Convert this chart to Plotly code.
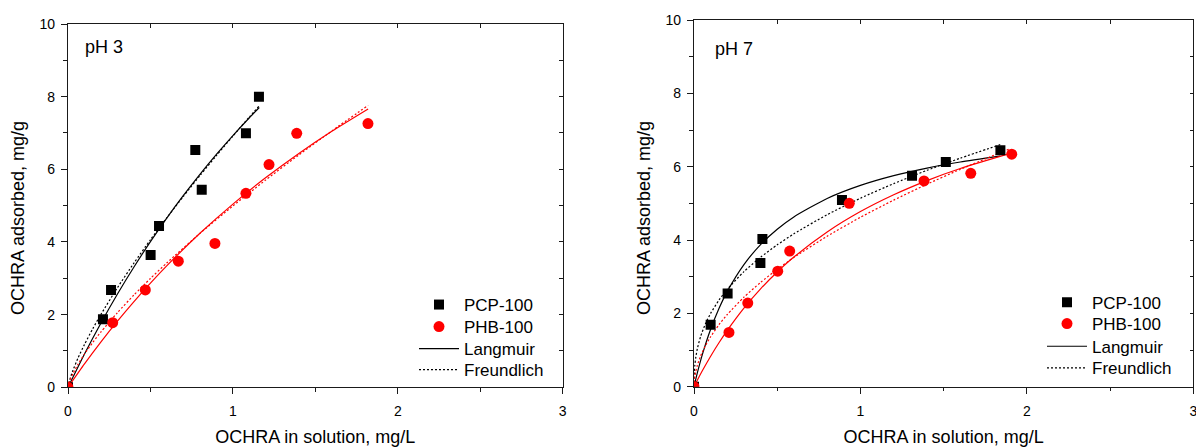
import plotly.graph_objects as go

# ---------------- data: pH 3 panel ----------------
ph3_pcp_x = [0, 0.212, 0.261, 0.501, 0.552, 0.772, 0.811, 1.079, 1.158]
ph3_pcp_y = [0, 1.87, 2.68, 3.64, 4.44, 6.53, 5.44, 6.99, 8.00]
ph3_phb_x = [0, 0.271, 0.469, 0.669, 0.891, 1.079, 1.219, 1.387, 1.819]
ph3_phb_y = [0, 1.78, 2.68, 3.47, 3.96, 5.34, 6.13, 6.99, 7.26]

# fitted curves
ph3_pcp_lang_x = [0, 0.1, 0.2, 0.3, 0.4, 0.5, 0.6, 0.7, 0.8, 0.9, 1.0, 1.1, 1.16]
ph3_pcp_lang_y = [0, 0.918, 1.772, 2.568, 3.312, 4.010, 4.665, 5.281, 5.862, 6.410, 6.929, 7.420, 7.702]
ph3_pcp_freu_x = [0, 0.01, 0.03, 0.06, 0.1, 0.15, 0.2, 0.3, 0.4, 0.5, 0.6, 0.7, 0.8, 0.9, 1.0, 1.1, 1.16]
ph3_pcp_freu_y = [0, 0.201, 0.468, 0.797, 1.180, 1.611, 2.009, 2.743, 3.421, 4.061, 4.671, 5.258, 5.827, 6.378, 6.915, 7.440, 7.750]
ph3_phb_lang_x = [0, 0.1, 0.2, 0.3, 0.4, 0.5, 0.6, 0.8, 1.0, 1.2, 1.4, 1.6, 1.82]
ph3_phb_lang_y = [0, 0.645, 1.251, 1.821, 2.360, 2.869, 3.350, 4.240, 5.043, 5.773, 6.438, 7.047, 7.660]
ph3_phb_freu_x = [0, 0.01, 0.03, 0.06, 0.1, 0.15, 0.2, 0.3, 0.4, 0.5, 0.6, 0.8, 1.0, 1.2, 1.4, 1.6, 1.82]
ph3_phb_freu_y = [0, 0.168, 0.377, 0.628, 0.916, 1.234, 1.526, 2.056, 2.542, 2.996, 3.427, 4.236, 4.992, 5.710, 6.396, 7.057, 7.760]

# ---------------- data: pH 7 panel ----------------
ph7_pcp_x = [0, 0.100, 0.202, 0.399, 0.411, 0.889, 1.310, 1.513, 1.841]
ph7_pcp_y = [0, 1.69, 2.54, 3.37, 4.03, 5.09, 5.75, 6.13, 6.45]
ph7_phb_x = [0, 0.210, 0.323, 0.503, 0.575, 0.933, 1.382, 1.663, 1.909]
ph7_phb_y = [0, 1.48, 2.28, 3.15, 3.70, 5.00, 5.61, 5.82, 6.34]

ph7_pcp_lang_x = [0, 0.02, 0.05, 0.1, 0.15, 0.2, 0.3, 0.4, 0.5, 0.6, 0.8, 1.0, 1.2, 1.4, 1.6, 1.84]
ph7_pcp_lang_y = [0, 0.376, 0.874, 1.568, 2.132, 2.600, 3.330, 3.875, 4.296, 4.631, 5.133, 5.489, 5.755, 5.962, 6.127, 6.286]
ph7_pcp_freu_x = [0, 0.002, 0.005, 0.01, 0.02, 0.04, 0.07, 0.1, 0.15, 0.2, 0.3, 0.4, 0.5, 0.6, 0.8, 1.0, 1.2, 1.4, 1.6, 1.84]
ph7_pcp_freu_y = [0, 0.402, 0.586, 0.778, 1.034, 1.374, 1.728, 2.000, 2.361, 2.657, 3.138, 3.530, 3.869, 4.169, 4.691, 5.140, 5.539, 5.901, 6.232, 6.600]
ph7_phb_lang_x = [0, 0.02, 0.05, 0.1, 0.15, 0.2, 0.3, 0.4, 0.5, 0.6, 0.8, 1.0, 1.2, 1.4, 1.6, 1.9]
ph7_phb_lang_y = [0, 0.178, 0.434, 0.832, 1.199, 1.537, 2.143, 2.668, 3.128, 3.535, 4.220, 4.776, 5.235, 5.621, 5.951, 6.363]
ph7_phb_freu_x = [0, 0.002, 0.005, 0.01, 0.02, 0.04, 0.07, 0.1, 0.15, 0.2, 0.3, 0.4, 0.5, 0.6, 0.8, 1.0, 1.2, 1.4, 1.6, 1.9]
ph7_phb_freu_y = [0, 0.172, 0.279, 0.402, 0.581, 0.839, 1.129, 1.363, 1.690, 1.969, 2.441, 2.843, 3.200, 3.524, 4.105, 4.620, 5.089, 5.522, 5.927, 6.492]

panel_labels = ["pH 3", "pH 7"]
x_title = "OCHRA in solution, mg/L"
y_title = "OCHRA adsorbed, mg/g"
x_range = [0, 3]
y_range = [0, 10]

FONT = "Liberation Sans, Arial, sans-serif"
AX = "#1a1a1a"
RED = "#ff0000"
W, H = 1196, 447

fig = go.Figure()


def add_panel(xa, ya, legs, pcp_x, pcp_y, phb_x, phb_y,
              pl_x, pl_y, pf_x, pf_y, rl_x, rl_y, rf_x, rf_y):
    common = dict(xaxis=xa, yaxis=ya, hoverinfo="skip")
    curve = dict(mode="lines", line_shape="spline", line_smoothing=0.6)
    fig.add_trace(go.Scatter(x=pl_x, y=pl_y, name="Langmuir", legend=legs[2],
                             line=dict(color="black", width=1.2), **curve, **common))
    fig.add_trace(go.Scatter(x=pf_x, y=pf_y, name="Freundlich", legend=legs[3],
                             line=dict(color="black", width=1.2, dash="2px,2px"),
                             **curve, **common))
    fig.add_trace(go.Scatter(x=rl_x, y=rl_y, showlegend=False,
                             line=dict(color=RED, width=1.2), **curve, **common))
    fig.add_trace(go.Scatter(x=rf_x, y=rf_y, showlegend=False,
                             line=dict(color=RED, width=1.2, dash="2px,2px"),
                             **curve, **common))
    fig.add_trace(go.Scatter(x=pcp_x, y=pcp_y, mode="markers", name="PCP-100", legend=legs[0],
                             marker=dict(symbol="square", size=10, color="black"), **common))
    fig.add_trace(go.Scatter(x=phb_x, y=phb_y, mode="markers", name="PHB-100", legend=legs[1],
                             marker=dict(symbol="circle", size=11, color=RED), **common))


left_legs = ["legend", "legend2", "legend3", "legend4"]
right_legs = ["legend5", "legend6", "legend7", "legend8"]

add_panel("x", "y", left_legs, ph3_pcp_x, ph3_pcp_y, ph3_phb_x, ph3_phb_y,
          ph3_pcp_lang_x, ph3_pcp_lang_y, ph3_pcp_freu_x, ph3_pcp_freu_y,
          ph3_phb_lang_x, ph3_phb_lang_y, ph3_phb_freu_x, ph3_phb_freu_y)
add_panel("x2", "y2", right_legs, ph7_pcp_x, ph7_pcp_y, ph7_phb_x, ph7_phb_y,
          ph7_pcp_lang_x, ph7_pcp_lang_y, ph7_pcp_freu_x, ph7_pcp_freu_y,
          ph7_phb_lang_x, ph7_phb_lang_y, ph7_phb_freu_x, ph7_phb_freu_y)

# empty traces that carry the inward ticks on the top / right frame sides
for xa, ya in (("x3", "y3"), ("x4", "y4")):
    fig.add_trace(go.Scatter(x=[None], y=[None], xaxis=xa, yaxis=ya,
                             showlegend=False, hoverinfo="skip"))

# pixel geometry of the two frames
L_box = dict(x0=68, x1=562.7, y0=387.3, y1=24)
R_box = dict(x0=694, x1=1193.3, y0=386.7, y1=20)


def xdom(b):
    return [b["x0"] / W, b["x1"] / W]


def ydom(b):
    return [1 - b["y0"] / H, 1 - b["y1"] / H]


tickfont = dict(family=FONT, size=14, color="black")


def main_x(b, anchor):
    return dict(domain=xdom(b), anchor=anchor, range=x_range, dtick=1, tick0=0,
                ticks="outside", ticklen=6, tickwidth=1.2, tickcolor=AX,
                minor=dict(dtick=0.5, ticks="outside", ticklen=3.5, tickwidth=1.2, tickcolor=AX),
                showline=True, linecolor=AX, linewidth=1.3, mirror=True,
                showgrid=False, zeroline=False, tickfont=tickfont,
                ticklabelstandoff=5, automargin=False, ticklabeloverflow="allow",
                title=dict(text=x_title, font=dict(family=FONT, size=18, color="black"),
                           standoff=14))


def main_y(b, anchor):
    return dict(domain=ydom(b), anchor=anchor, range=y_range, dtick=2, tick0=0,
                ticks="outside", ticklen=6, tickwidth=1.2, tickcolor=AX,
                minor=dict(dtick=1, ticks="outside", ticklen=3.5, tickwidth=1.2, tickcolor=AX),
                showline=True, linecolor=AX, linewidth=1.3, mirror=True,
                showgrid=False, zeroline=False, tickfont=tickfont,
                ticklabelstandoff=3, automargin=False, ticklabeloverflow="allow")


def top_x(base, anchor):
    return dict(overlaying=base, anchor=anchor, side="top", range=x_range, dtick=1, tick0=0,
                ticks="inside", ticklen=3.5, tickwidth=1.2, tickcolor=AX,
                minor=dict(dtick=0.5, ticks="inside", ticklen=3.5, tickwidth=1.2, tickcolor=AX),
                showticklabels=False, showline=False, showgrid=False, zeroline=False,
                automargin=False)


def right_y(base, anchor):
    return dict(overlaying=base, anchor=anchor, side="right", range=y_range, dtick=2, tick0=0,
                ticks="inside", ticklen=3.5, tickwidth=1.2, tickcolor=AX,
                minor=dict(dtick=1, ticks="inside", ticklen=3.5, tickwidth=1.2, tickcolor=AX),
                showticklabels=False, showline=False, showgrid=False, zeroline=False,
                automargin=False)


legend_common = dict(font=dict(family=FONT, size=17, color="black"),
                     bgcolor="rgba(0,0,0,0)", borderwidth=0, traceorder="normal",
                     itemwidth=40, xanchor="left", yanchor="middle",
                     itemclick=False, itemdoubleclick=False)

legend_layout = {}
for names, lx, rows in ((left_legs, 414, (305, 327, 349, 370)),
                        (right_legs, 1042, (302.7, 324, 346.7, 368.3))):
    for name, ry in zip(names, rows):
        legend_layout[name] = dict(x=lx / W, y=1 - ry / H, **legend_common)

annotations = []
for lbl, px, py in ((panel_labels[0], 83, 47), (panel_labels[1], 713, 49)):
    annotations.append(dict(text=lbl, xref="paper", yref="paper", x=px / W, y=1 - py / H,
                            xanchor="left", yanchor="middle", showarrow=False,
                            font=dict(family=FONT, size=18, color="black")))
for px, py in ((18, 218), (644, 218)):
    annotations.append(dict(text=y_title, xref="paper", yref="paper", x=px / W, y=1 - py / H,
                            xanchor="center", yanchor="middle", showarrow=False, textangle=-90,
                            font=dict(family=FONT, size=18, color="black")))

fig.update_layout(
    width=W, height=H,
    margin=dict(l=0, r=0, t=0, b=0, pad=0, autoexpand=False),
    paper_bgcolor="white", plot_bgcolor="white",
    font=dict(family=FONT, color="black"),
    xaxis=main_x(L_box, "y"), yaxis=main_y(L_box, "x"),
    xaxis2=main_x(R_box, "y2"), yaxis2=main_y(R_box, "x2"),
    xaxis3=top_x("x", "y3"), yaxis3=right_y("y", "x3"),
    xaxis4=top_x("x2", "y4"), yaxis4=right_y("y2", "x4"),
    annotations=annotations,
    showlegend=True,
    **legend_layout,
)

fig.write_html(
    "out.html",
    config={"displayModeBar": False, "responsive": False},
    post_script="document.body.style.margin='0';document.body.style.overflow='hidden';",
)
